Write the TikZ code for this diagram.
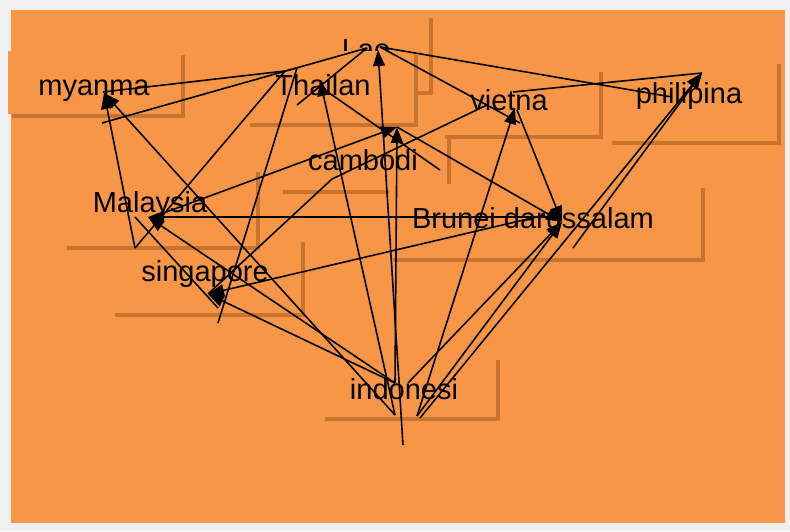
\documentclass[tikz,border=0pt]{standalone}
\usepackage{fontspec}
\setmainfont{Liberation Sans}
\usetikzlibrary{arrows.meta}
\definecolor{bgorange}{HTML}{F79646}
\definecolor{shadowc}{HTML}{C8732E}
\definecolor{outergray}{HTML}{F0F0F0}
\tikzset{
  lbl/.style={inner sep=0pt, anchor=base, font=\fontsize{29}{34}\selectfont},
  edge/.style={line width=1.6pt, black},
  arr/.style={edge, -{Triangle[length=16pt,width=12pt]}},
}
\newcommand\cbox[8]{%
  \fill[shadowc] (#2+4,#3+4) rectangle (#4+4,#5+4);
  \fill[bgorange] (#2,#3) rectangle (#4,#5);
  \node[lbl] (#1) at (#7,#8) {#6};
}
\begin{document}
\begin{tikzpicture}[x=1pt,y=-1pt]
\useasboundingbox (0,0) rectangle (790,531);
\fill[outergray] (0,0) rectangle (790,531);
\fill[bgorange] (11,10) rectangle (785,523);
% boxes and labels
\cbox{lao}{299}{14}{429}{91}{Lao}{366}{59}
\cbox{thailan}{246}{51}{414}{123}{Thailan}{323}{95}
\cbox{myanma}{8}{51}{181}{114}{myanma}{94}{95}
\cbox{philipina}{608}{60}{777}{141}{philipina}{689}{103}
\cbox{cambodi}{279}{134}{447}{190}{cambodi}{363}{170}
\cbox{vietna}{441}{68}{599}{135}{vietna}{509}{110}
\cbox{brunei}{389}{184}{701}{258}{Brunei darussalam}{533}{228}
\cbox{singapore}{111}{238}{301}{313}{singapore}{205}{281}
\cbox{malaysia}{63}{168}{256}{246}{Malaysia}{150}{212}
\cbox{indonesi}{321}{356}{496}{417}{indonesi}{404}{399}
% connector end points
\coordinate (myH) at (104,93);
\coordinate (laH) at (378,50);
\coordinate (thH) at (320,80);
\coordinate (viH) at (515,108);
\coordinate (phH) at (702,73);
\coordinate (caH) at (397,127);
\coordinate (maH) at (148,217);
\coordinate (siH) at (208,294);
\coordinate (brH) at (562,222);
\coordinate (maT1) at (135,248);
\coordinate (maT2) at (150,218);
\coordinate (maL) at (135,217);
\coordinate (inT1) at (395,383);
\coordinate (inT2) at (395,415);
\coordinate (inT3) at (403,445);
\coordinate (inT4) at (408,383);
\coordinate (inT5) at (417,416);
\coordinate (inT6) at (420,418);
\coordinate (brT1) at (560,217);
\coordinate (brT2) at (545,215);
\coordinate (brT3) at (573,248);
\coordinate (viT1) at (517,110);
\coordinate (viT2) at (513,92);
\coordinate (viT3) at (520,123);
\coordinate (viT4) at (487,105);
\coordinate (laC) at (367,48);
\coordinate (laR) at (380,47);
\coordinate (mbT) at (102,123);
\coordinate (myT) at (103,92);
\coordinate (thT1) at (285,71);
\coordinate (thT2) at (297,68);
\coordinate (thT3) at (297,105);
\coordinate (thT4) at (322,88);
\coordinate (siB) at (218,323);
\coordinate (siT2) at (218,308);
\coordinate (phT) at (672,97);
\coordinate (caE) at (440,170);
\coordinate (bend) at (332,179);
% connectors with arrow heads
\draw[arr] (maT1) -- (myH);
\draw[arr] (inT2) -- (myH);
\draw[arr] (inT1) -- (maH);
\draw[arr] (brT1) -- (maH);
\draw[arr] (inT1) -- (siH);
\draw[arr] (brT2) -- (siH);
\draw[arr] (inT2) -- (thH);
\draw[arr] (inT3) -- (laH);
\draw[arr] (inT1) -- (caH);
\draw[arr] (maT2) -- (caH);
\draw[arr] (inT5) -- (viH);
\draw[arr] (inT4) -- (brH);
\draw[arr] (inT5) -- (brH);
\draw[arr] (caH) -- (brH);
\draw[arr] (viT1) -- (brH);
\draw[arr] (inT6) -- (phH);
\draw[arr] (brT3) -- (phH);
% plain connectors
\draw[edge] (mbT) -- (laC);
\draw[edge] (myT) -- (thT1);
\draw[edge] (thT1) -- (maT1);
\draw[edge] (thT1) -- (thT2);
\draw[edge] (thT2) -- (siB);
\draw[edge] (thT3) -- (laC);
\draw[edge] (laR) -- (phT);
\draw[edge] (laR) -- (viT3);
\draw[edge] (viT2) -- (phH);
\draw[edge] (viT4) -- (bend) -- (siH);
\draw[edge] (thT4) -- (caE);
\draw[edge] (maL) -- (siT2);
\end{tikzpicture}
\end{document}
